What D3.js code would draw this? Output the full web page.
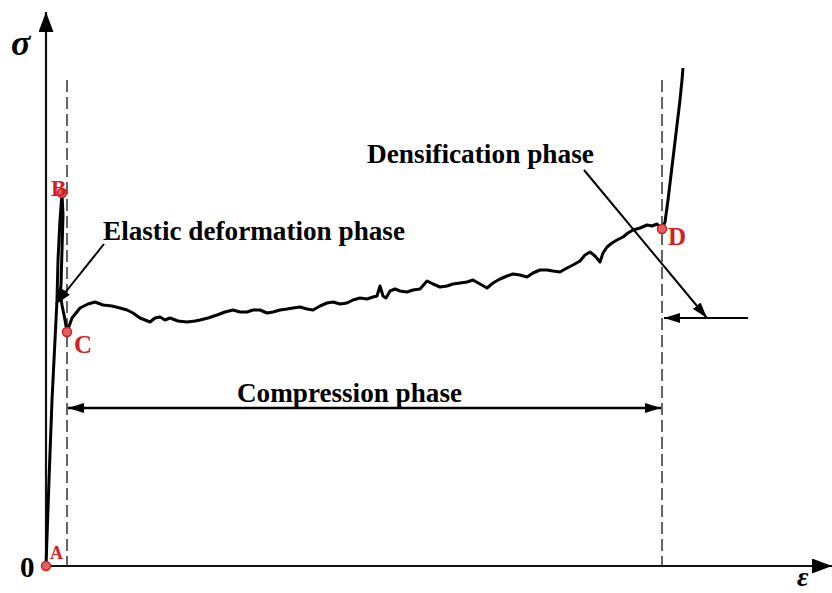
<!DOCTYPE html>
<html lang="en">
  <head>
    <meta charset="UTF-8">
    <title>Stress-strain curve</title>
    <style>
      body { margin: 0; background: #fff; }
      text { font-family: "Liberation Serif", "DejaVu Serif", serif; font-weight: bold; }
    </style>
  </head>
  <body>
    <svg id="chart" width="832" height="593"></svg>

    <script src="https://d3js.org/d3.v7.min.js"></script>

    <script>
      // curva tension-deformacion (deformacion, tension)
      var strain = [
        0, 0.3, 0.6, 0.9, 1.1, 1.2, 1.4, 1.6,
        1.7, 1.6, 1.5, 1.3, 1.4, 1.6, 1.9, 2.1,
        2.6, 3.4, 4.2, 4.9, 5.7, 6.6, 7.4, 8.1, 8.7, 9.4, 10.4, 10.9, 11.4, 11.9,
        12.4, 13.2, 14.1, 14.9, 15.4, 16.2, 17.1, 17.9, 18.7, 19.4, 20.1, 20.7,
        21.4, 22.1, 22.7, 23.4, 24.1, 24.7, 25.4, 26.1, 26.7, 27.4, 28.1, 28.7,
        29.4, 30.1, 30.7, 31.4, 32.1, 32.7, 33.1, 33.4, 33.7, 34.0, 34.4, 34.9,
        35.4, 36.1, 36.7, 37.4, 38.1, 38.7, 39.4, 40.1, 40.7, 41.4, 42.1, 42.7,
        43.4, 44.1, 44.7, 45.4, 46.1, 46.7, 47.4, 48.1, 48.7, 49.4, 50.1, 50.7,
        51.4, 52.1, 52.7, 53.4, 53.9, 54.4, 54.9, 55.4, 55.7, 56.1, 56.6, 57.1,
        57.7, 58.2, 58.7, 59.4, 60.1, 60.6, 61.1, 61.6,
        61.9, 62.2, 62.5, 62.8, 63.1, 63.4, 63.6, 63.7
      ];
      var stress = [
        0, 8.6, 16.6, 22.6, 26.6, 30.6, 34.6, 37.3,
        35.1, 31.6, 28.1, 26.6, 27.4, 26.1, 24.6, 23.4,
        24.8, 25.8, 26.2, 26.4, 26.1, 26.0, 25.8, 25.6, 25.3, 24.8, 24.4, 24.8, 24.9, 24.6,
        24.8, 24.5, 24.4, 24.5, 24.6, 24.8, 25.1, 25.4, 25.6, 25.4, 25.4, 25.6,
        25.6, 25.3, 25.4, 25.6, 25.7, 25.8, 25.9, 25.7, 25.6, 26.0, 26.3, 26.4,
        26.2, 26.3, 26.6, 26.8, 26.7, 26.9, 27.0, 28.0, 27.0, 26.8, 27.5, 27.7,
        27.5, 27.4, 27.6, 27.7, 28.5, 28.2, 27.9, 28.0, 28.2, 28.3, 28.4, 28.6,
        28.2, 27.8, 28.3, 28.7, 29.0, 29.2, 29.1, 28.9, 29.3, 29.6, 29.6, 29.5,
        29.4, 29.8, 30.1, 30.5, 31.1, 31.4, 31.0, 30.4, 31.3, 31.9, 32.3, 32.6,
        32.9, 33.3, 33.6, 33.8, 34.1, 34.0, 34.2, 33.7,
        34.4, 36.6, 39.1, 41.6, 44.1, 46.6, 48.6, 49.8
      ];

      // puntos A, B, C, D
      var pointNames = ["A", "B", "C", "D"];
      var pointStrain = [0, 1.6, 2.1, 61.6];
      var pointStress = [0, 37.3, 23.4, 33.7];

      // limites de las fases (lineas punteadas)
      var phaseBounds = [2.1, 61.6];

      var svg = d3.select("#chart"),
        x = d3.scaleLinear().domain([0, 77]).range([46, 816]),
        y = d3.scaleLinear().domain([0, 50]).range([566, 66]);

      // flechas
      var defs = svg.append("defs");
      function flecha(id, w, h) {
        defs.append("marker")
          .attr("id", id)
          .attr("viewBox", "0 0 " + w + " " + h)
          .attr("refX", w).attr("refY", h / 2)
          .attr("markerWidth", w).attr("markerHeight", h)
          .attr("markerUnits", "userSpaceOnUse")
          .attr("orient", "auto-start-reverse")
          .append("path")
          .attr("d", "M0,0L" + w + "," + (h / 2) + "L0," + h + "Z")
          .attr("fill", "#000");
      }
      flecha("axisHead", 20, 15);
      flecha("head", 16, 10);

      // ejes
      svg.append("line")
        .attr("x1", x(0)).attr("y1", y(0))
        .attr("x2", x(0)).attr("y2", 12)
        .attr("stroke", "#111").attr("stroke-width", 2.2)
        .attr("marker-end", "url(#axisHead)");
      svg.append("line")
        .attr("x1", x(0)).attr("y1", y(0))
        .attr("x2", 832).attr("y2", y(0))
        .attr("stroke", "#111").attr("stroke-width", 2.2)
        .attr("marker-end", "url(#axisHead)");

      svg.append("text").attr("x", 11).attr("y", 55)
        .attr("font-size", 36).attr("font-style", "italic").text("σ");
      svg.append("text").attr("x", 797).attr("y", 586)
        .attr("font-size", 28).attr("font-style", "italic").text("ε");
      svg.append("text").attr("x", 20).attr("y", 577)
        .attr("font-size", 29).attr("font-weight", "normal").text("0");

      // lineas punteadas
      svg.selectAll(".bound").data(phaseBounds).enter().append("line")
        .attr("class", "bound")
        .attr("x1", function(d) { return x(d); }).attr("x2", function(d) { return x(d); })
        .attr("y1", 80).attr("y2", y(0))
        .attr("stroke", "#333").attr("stroke-width", 1.5)
        .attr("stroke-dasharray", "12,5");

      // curva
      var pts = strain.map(function(s, i) { return [s, stress[i]]; });
      svg.append("path")
        .datum(pts)
        .attr("d", d3.line().x(function(d) { return x(d[0]); }).y(function(d) { return y(d[1]); }))
        .attr("fill", "none").attr("stroke", "#000")
        .attr("stroke-width", 3).attr("stroke-linejoin", "round");

      // anotaciones con flechas
      svg.append("line")
        .attr("x1", 104).attr("y1", 244).attr("x2", 56).attr("y2", 304)
        .attr("stroke", "#000").attr("stroke-width", 2).attr("marker-end", "url(#head)");
      svg.append("line")
        .attr("x1", 584).attr("y1", 170).attr("x2", 707).attr("y2", 318)
        .attr("stroke", "#000").attr("stroke-width", 2).attr("marker-end", "url(#head)");
      svg.append("line")
        .attr("x1", 748).attr("y1", 318).attr("x2", x(phaseBounds[1]) + 2).attr("y2", 318)
        .attr("stroke", "#000").attr("stroke-width", 2).attr("marker-end", "url(#head)");
      svg.append("line")
        .attr("x1", x(phaseBounds[0]) + 1).attr("y1", 408)
        .attr("x2", x(phaseBounds[1]) - 1).attr("y2", 408)
        .attr("stroke", "#000").attr("stroke-width", 2.5)
        .attr("marker-start", "url(#head)").attr("marker-end", "url(#head)");

      svg.append("text").attr("x", 103).attr("y", 240).attr("font-size", 27)
        .attr("textLength", 302).attr("lengthAdjust", "spacingAndGlyphs")
        .text("Elastic deformation phase");
      svg.append("text").attr("x", 367).attr("y", 163).attr("font-size", 27)
        .attr("textLength", 227).attr("lengthAdjust", "spacingAndGlyphs")
        .text("Densification phase");
      svg.append("text").attr("x", 237).attr("y", 402).attr("font-size", 27)
        .attr("textLength", 225).attr("lengthAdjust", "spacingAndGlyphs")
        .text("Compression phase");

      // marcadores rojos
      svg.selectAll(".pt").data(pointNames).enter().append("circle")
        .attr("class", "pt")
        .attr("cx", function(d, i) { return x(pointStrain[i]); })
        .attr("cy", function(d, i) { return y(pointStress[i]); })
        .attr("r", 4.5)
        .attr("fill", "#e06060").attr("stroke", "#d42020").attr("stroke-width", 1.5);

      var labelDx = [4, -11, 7, 6], labelDy = [-7, 3, 21, 16], labelSize = [18, 23, 25, 25];
      svg.selectAll(".lab").data(pointNames).enter().append("text")
        .attr("class", "lab")
        .attr("x", function(d, i) { return x(pointStrain[i]) + labelDx[i]; })
        .attr("y", function(d, i) { return y(pointStress[i]) + labelDy[i]; })
        .attr("font-size", function(d, i) { return labelSize[i]; })
        .attr("fill", "#d42020")
        .text(function(d) { return d; });
    </script>
  </body>
</html>
